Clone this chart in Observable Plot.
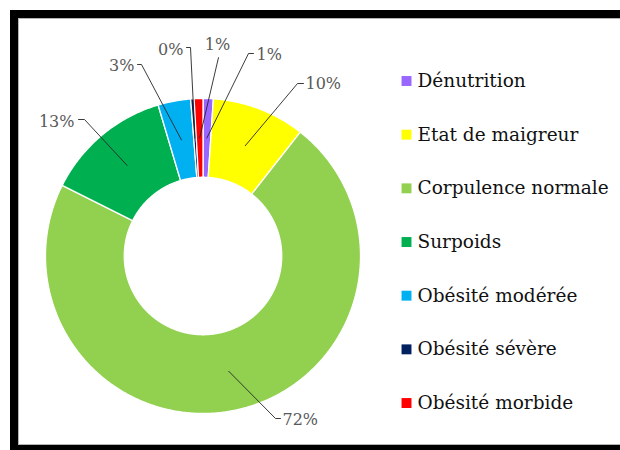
<!DOCTYPE html>
<html>
<head>
<meta charset="utf-8">
<script src="https://cdn.jsdelivr.net/npm/d3@7"></script>
<script src="https://cdn.jsdelivr.net/npm/@observablehq/plot@0.6"></script>
<style>
html, body { margin: 0; padding: 0; background: #fff; overflow: hidden; width: 620px; height: 450px; }
#frame { position: absolute; left: 10px; top: 10px; width: 640px; height: 443px; box-sizing: border-box;
  border: 8px solid #000; box-shadow: inset 0 0 0 1px #b4b4b4; }
#chart { position: absolute; left: 0; top: 0; }
#chart svg text { font-family: "DejaVu Serif", serif !important; }
</style>
</head>
<body>
<div id="frame"></div>
<div id="chart"></div>
<script>
// ---- Data ----
const categories = ["Dénutrition", "Etat de maigreur", "Corpulence normale", "Surpoids",
                    "Obésité modérée", "Obésité sévère", "Obésité morbide"];
const values = [1.05, 9.55, 71.8, 13.0, 3.35, 0.35, 0.9];   // percent
const palette = ["#9966FF", "#FFFF00", "#92D050", "#00B050", "#00B0F0", "#002060", "#FF0000"];

// ---- Layout (pixel space of the SVG) ----
const W = 620, H = 450;
const cx = 202.5, cy = 255.5, R = 157.5, r0 = R * 0.5;
// per label: text position, anchor, elbow point and end of the short horizontal
const labelLayout = [
  {tx: 256, ty: 54,  anchor: "start",  ex: 248, ey: 53,  hx: 253},
  {tx: 305, ty: 83.5, anchor: "start", ex: 297, ey: 83,  hx: 303},
  {tx: 282, ty: 419.5, anchor: "start", ex: 275, ey: 418, hx: 280},
  {tx: 74,  ty: 121, anchor: "end",    ex: 84,  ey: 119, hx: 78},
  {tx: 134, ty: 65,  anchor: "end",    ex: 141, ey: 64,  hx: 137},
  {tx: 183, ty: 49,  anchor: "end",    ex: 190, ey: 47,  hx: 186},
  {tx: 217, ty: 44.5, anchor: "middle", ex: 218, ey: 57, hx: 218}
];
const legendX = 406, legendTextX = 417, legendY0 = 80.5, legendStep = 53.67;

// ---- Slice geometry from the data ----
const total = d3.sum(values);
let acc = 0;
const slices = categories.map((c, i) => {
  const a0 = acc / total * 2 * Math.PI;
  acc += values[i];
  const a1 = acc / total * 2 * Math.PI;
  return {category: c, a0, a1, value: values[i], i};
});
const pt = (a, r) => ({x: cx + r * Math.sin(a), y: cy - r * Math.cos(a)});
const slicePts = [];
for (const s of slices) {
  const n = Math.max(2, Math.ceil((s.a1 - s.a0) / (Math.PI / 360)));
  for (let k = 0; k <= n; k++) slicePts.push({category: s.category, ...pt(s.a0 + (s.a1 - s.a0) * k / n, R)});
  for (let k = n; k >= 0; k--) slicePts.push({category: s.category, ...pt(s.a0 + (s.a1 - s.a0) * k / n, r0)});
}

// leader lines and percentage labels
const leaderPts = [];
const labelData = [];
slices.forEach((s, i) => {
  const L = labelLayout[i];
  const c = pt((s.a0 + s.a1) / 2, (R + r0) / 2);
  leaderPts.push({id: i, x: c.x, y: c.y}, {id: i, x: L.ex, y: L.ey}, {id: i, x: L.hx, y: L.ey});
  labelData.push({x: L.tx, y: L.ty, anchor: L.anchor, text: Math.round(s.value) + "%"});
});

const legendData = categories.map((c, i) => ({category: c, y: legendY0 + i * legendStep}));

const labelMark = (anchor) => Plot.text(labelData.filter(d => d.anchor === anchor), {
  x: "x", y: "y", text: "text", textAnchor: anchor, lineAnchor: "middle",
  fontSize: 16, fill: "#595959"
});

const chart = Plot.plot({
  width: W, height: H,
  margin: 0,
  x: {domain: [0, W], range: [0, W], axis: null},
  y: {domain: [0, H], range: [0, H], axis: null},
  color: {domain: categories, range: palette},
  style: {background: "transparent", overflow: "visible"},
  marks: [
    Plot.line(slicePts, {x: "x", y: "y", z: "category", fill: "category",
      stroke: "white", strokeWidth: 1.3, curve: "linear-closed"}),
    Plot.line(leaderPts, {x: "x", y: "y", z: "id", stroke: "#262626", strokeWidth: 0.9}),
    labelMark("start"), labelMark("end"), labelMark("middle"),
    Plot.dot(legendData, {x: () => legendX, y: "y", fill: "category", symbol: "square", r: 5.6}),
    Plot.text(legendData, {x: () => legendTextX, y: "y", text: "category", textAnchor: "start",
      lineAnchor: "middle", fontSize: 18.5, fill: "#111"})
  ]
});
document.getElementById("chart").appendChild(chart);
</script>
</body>
</html>
